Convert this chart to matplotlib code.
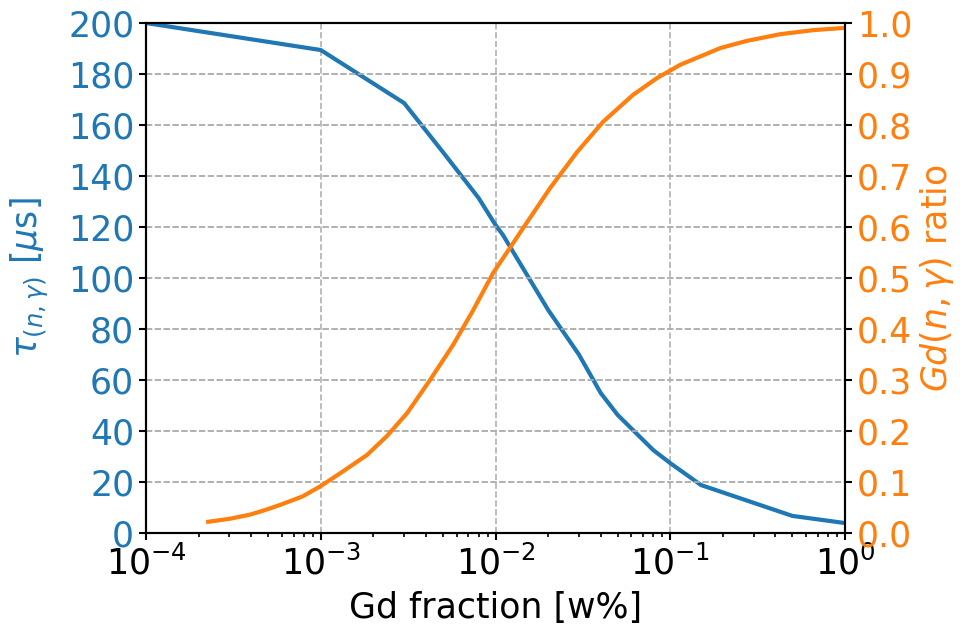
import numpy as np
import matplotlib
matplotlib.use('Agg')
import matplotlib.pyplot as plt

# capture time vs Gd fraction
gd_frac_tau = [1e-4, 1e-3, 3e-3, 5e-3, 8e-3, 1e-2, 1.1e-2, 2e-2, 3e-2, 4e-2,
               5e-2, 8e-2, 1e-1, 1.5e-1, 5e-1, 1.0]
tau_capture = [200, 189.4, 168.6, 149.4, 131.4, 120.8, 117, 87.5, 70, 54.9,
               46.3, 32.5, 27.4, 18.8, 6.7, 3.9]

# Gd capture ratio vs Gd fraction
gd_frac_ratio = [2.27e-4, 3.03e-4, 3.94e-4, 4.9e-4, 5.85e-4, 7.9e-4, 1e-3, 1.29e-3,
                 1.84e-3, 2.39e-3, 3.12e-3, 4.22e-3, 5.7e-3, 7.4e-3, 9.7e-3,
                 1.44e-2, 2.05e-2, 2.93e-2, 4.12e-2, 6.12e-2, 8.4e-2, 0.114,
                 0.194, 0.275, 0.425, 0.657, 0.96]
gd_ratio = [0.022, 0.028, 0.036, 0.046, 0.055, 0.072, 0.092, 0.117,
            0.153, 0.190, 0.235, 0.300, 0.368, 0.435, 0.51,
            0.598, 0.676, 0.747, 0.806, 0.859, 0.892, 0.918,
            0.951, 0.965, 0.978, 0.986, 0.99]

blue = '#1f77b4'
orange = '#ff7f0e'
fs_tick = 25
fs_label = 25

plt.rcParams['axes.linewidth'] = 1.5
plt.rcParams['xtick.major.width'] = 1.5
plt.rcParams['ytick.major.width'] = 1.5
plt.rcParams['xtick.minor.width'] = 1.2
plt.rcParams['xtick.major.size'] = 5
plt.rcParams['ytick.major.size'] = 5
plt.rcParams['xtick.minor.size'] = 3

fig = plt.figure(figsize=(9.64, 6.31), dpi=100)
ax1 = fig.add_axes([146 / 964, 1 - 533 / 631, (845 - 146) / 964, (533 - 23) / 631])
ax1.plot(gd_frac_tau, tau_capture, color=blue, lw=3)
ax1.set_xscale('log')
ax1.set_xlim(1e-4, 1)
ax1.set_ylim(0, 200)
ax1.set_yticks(np.arange(0, 201, 20))
ax1.grid(True, which='major', ls='--', color='#b0b0b0', lw=1.2)
ax1.set_xlabel('Gd fraction [w%]', fontsize=fs_label, labelpad=7)
ax1.set_ylabel(r'$\tau_{(n,\gamma)}$ [$\mu$s]', fontsize=fs_label, color=blue, labelpad=12)
ax1.tick_params(axis='y', labelcolor=blue, labelsize=fs_tick)
ax1.tick_params(axis='x', labelsize=fs_tick)

ax2 = ax1.twinx()
ax2.plot(gd_frac_ratio, gd_ratio, color=orange, lw=3)
ax2.set_ylim(0, 1)
ax2.set_yticks(np.arange(0, 1.01, 0.1))
ax2.yaxis.set_major_formatter(matplotlib.ticker.FormatStrFormatter('%.1f'))
ax2.set_ylabel(r'$Gd(n,\gamma)$ ratio', fontsize=fs_label, color=orange, labelpad=4)
ax2.tick_params(axis='y', labelcolor=orange, labelsize=fs_tick)
ax2.grid(True, axis='y', ls='--', color='#b0b0b0', lw=1.2)

plt.savefig('out.png', dpi=100)
